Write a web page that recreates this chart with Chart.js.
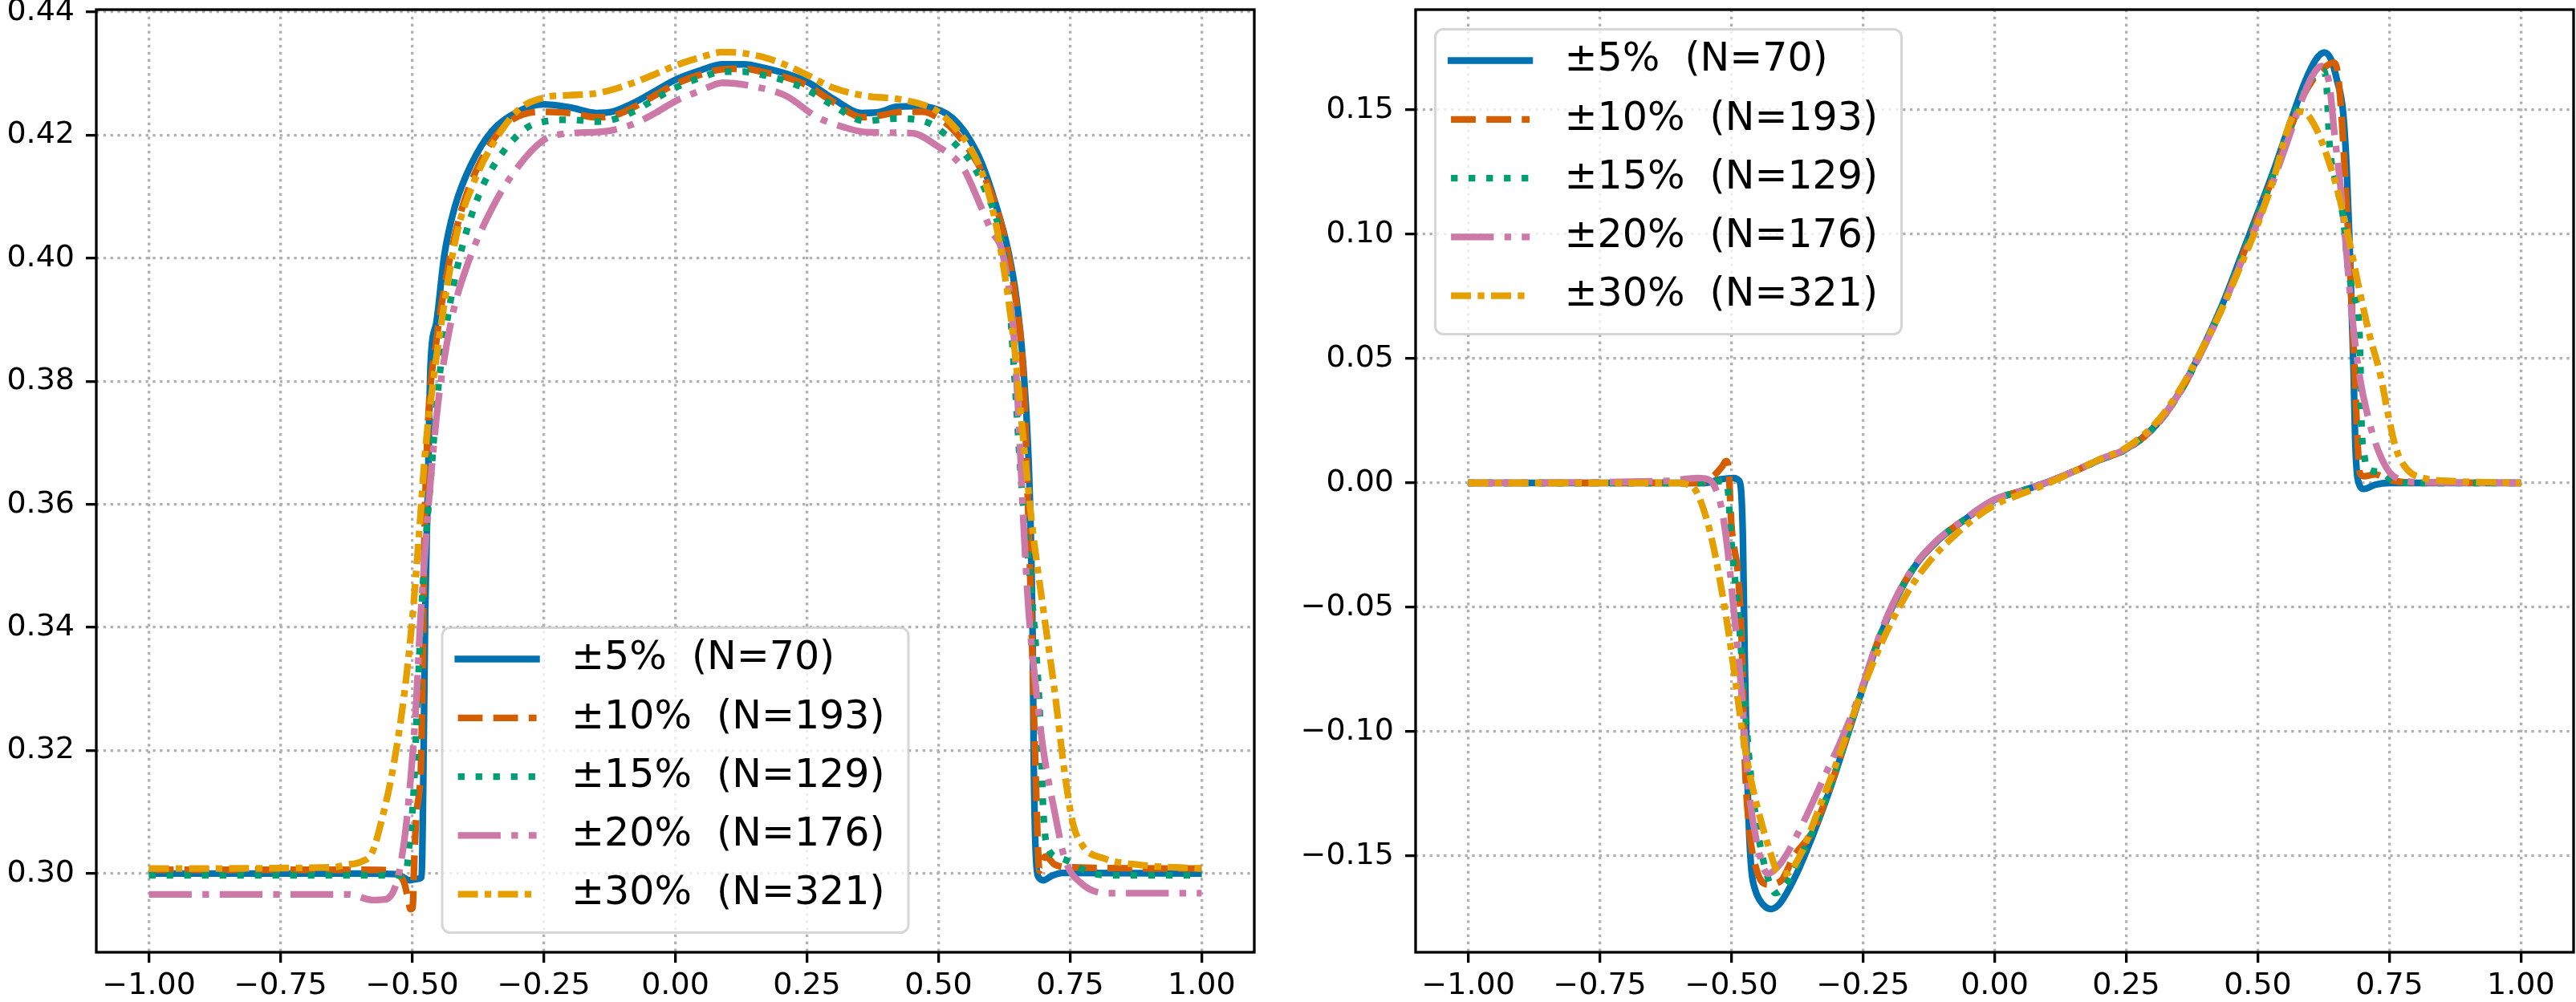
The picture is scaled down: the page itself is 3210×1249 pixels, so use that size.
<!DOCTYPE html>
<html>
<head>
<meta charset="utf-8">
<script src="https://cdn.jsdelivr.net/npm/chart.js@4.4.1/dist/chart.umd.min.js"></script>
<style>
  html, body { margin: 0; padding: 0; background: #fff; overflow: hidden; }
  #wrap { position: relative; width: 3210px; height: 1249px; }
  canvas { position: absolute; top: 0; }
</style>
</head>
<body>
<div id="wrap">
  <canvas id="leftChart" width="1600" height="1249" style="left:0"></canvas>
  <canvas id="rightChart" width="1605" height="1249" style="left:1605px"></canvas>
</div>
<script>
// series labels, same for both panels
const seriesLabels = ['±5%  (N=70)', '±10%  (N=193)', '±15%  (N=129)', '±20%  (N=176)', '±30%  (N=321)'];

// tick labels
const xTicks = [-1.0, -0.75, -0.5, -0.25, 0.0, 0.25, 0.5, 0.75, 1.0];
const leftYTicks = [0.30, 0.32, 0.34, 0.36, 0.38, 0.40, 0.42, 0.44];
const rightYTicks = [-0.15, -0.10, -0.05, 0.00, 0.05, 0.10, 0.15];

// left panel, [x, y]
const left5 = [[-1.0, 0.3], [-0.6, 0.3], [-0.53, 0.2999], [-0.515, 0.2993], [-0.505, 0.2989], [-0.492, 0.2991], [-0.482, 0.2994], [-0.479, 0.3133], [-0.475, 0.343], [-0.47, 0.3628], [-0.465, 0.3826], [-0.454, 0.3895], [-0.439, 0.4004], [-0.419, 0.4083], [-0.388, 0.4152], [-0.348, 0.4207], [-0.302, 0.4237], [-0.25, 0.425], [-0.2, 0.4245], [-0.15, 0.4236], [-0.12, 0.4238], [-0.08, 0.4252], [-0.04, 0.4271], [0.0, 0.429], [0.05, 0.4306], [0.09, 0.4315], [0.13, 0.4315], [0.17, 0.4309], [0.21, 0.43], [0.25, 0.4287], [0.3, 0.4259], [0.355, 0.4236], [0.39, 0.4238], [0.42, 0.4246], [0.46, 0.4247], [0.49, 0.4244], [0.515, 0.4235], [0.536, 0.422], [0.56, 0.4192], [0.582, 0.4155], [0.608, 0.409], [0.633, 0.401], [0.648, 0.3935], [0.661, 0.3826], [0.671, 0.3677], [0.676, 0.3529], [0.679, 0.338], [0.681, 0.3182], [0.686, 0.3014], [0.692, 0.2992], [0.699, 0.2989], [0.715, 0.2996], [0.735, 0.3001], [1.0, 0.3]];
const left10 = [[-1.0, 0.3006], [-0.6, 0.3006], [-0.54, 0.3005], [-0.525, 0.2998], [-0.515, 0.2985], [-0.508, 0.296], [-0.503, 0.2942], [-0.499, 0.2945], [-0.496, 0.302], [-0.492, 0.3095], [-0.487, 0.3128], [-0.483, 0.318], [-0.48, 0.333], [-0.477, 0.3529], [-0.47, 0.3727], [-0.454, 0.3865], [-0.434, 0.3974], [-0.408, 0.4073], [-0.373, 0.4152], [-0.322, 0.4217], [-0.25, 0.4238], [-0.2, 0.4236], [-0.15, 0.4229], [-0.12, 0.4231], [-0.08, 0.4245], [-0.04, 0.4264], [0.0, 0.4283], [0.05, 0.4299], [0.09, 0.4307], [0.13, 0.4308], [0.17, 0.4302], [0.21, 0.4294], [0.25, 0.4281], [0.3, 0.4254], [0.355, 0.4229], [0.39, 0.4232], [0.43, 0.4238], [0.47, 0.4238], [0.5, 0.4228], [0.53, 0.4207], [0.555, 0.418], [0.58, 0.4145], [0.605, 0.4095], [0.625, 0.4035], [0.648, 0.3925], [0.661, 0.3814], [0.669, 0.3628], [0.676, 0.343], [0.684, 0.318], [0.692, 0.3004], [0.698, 0.3022], [0.704, 0.3028], [0.72, 0.3015], [0.75, 0.301], [1.0, 0.3008]];
const left15 = [[-1.0, 0.2997], [-0.6, 0.2997], [-0.525, 0.2997], [-0.512, 0.3], [-0.505, 0.305], [-0.497, 0.3133], [-0.49, 0.3281], [-0.482, 0.343], [-0.475, 0.3529], [-0.464, 0.3648], [-0.452, 0.3776], [-0.434, 0.3895], [-0.409, 0.4004], [-0.373, 0.4103], [-0.332, 0.4167], [-0.282, 0.4212], [-0.25, 0.4222], [-0.2, 0.4225], [-0.15, 0.4222], [-0.12, 0.4225], [-0.08, 0.4238], [-0.04, 0.4258], [0.0, 0.4277], [0.05, 0.4294], [0.09, 0.4303], [0.13, 0.4303], [0.17, 0.4297], [0.21, 0.4288], [0.25, 0.4274], [0.3, 0.4248], [0.36, 0.4223], [0.42, 0.4227], [0.46, 0.4225], [0.49, 0.4216], [0.53, 0.4187], [0.566, 0.4151], [0.59, 0.4108], [0.614, 0.4051], [0.633, 0.395], [0.643, 0.3826], [0.658, 0.3628], [0.674, 0.3479], [0.684, 0.338], [0.694, 0.3232], [0.699, 0.3103], [0.709, 0.3039], [0.735, 0.3024], [0.786, 0.3002], [0.83, 0.2997], [1.0, 0.2997]];
const left20 = [[-1.0, 0.2966], [-0.62, 0.2966], [-0.576, 0.2957], [-0.551, 0.2958], [-0.53, 0.2984], [-0.515, 0.3053], [-0.503, 0.3152], [-0.492, 0.3281], [-0.485, 0.34], [-0.475, 0.3529], [-0.464, 0.3648], [-0.449, 0.3776], [-0.424, 0.3905], [-0.393, 0.3994], [-0.353, 0.4073], [-0.312, 0.4133], [-0.25, 0.4192], [-0.2, 0.4203], [-0.15, 0.4205], [-0.12, 0.4208], [-0.08, 0.4218], [-0.04, 0.4235], [0.0, 0.4255], [0.05, 0.4273], [0.09, 0.4285], [0.15, 0.4279], [0.21, 0.4264], [0.27, 0.4229], [0.32, 0.4213], [0.36, 0.4205], [0.42, 0.4204], [0.452, 0.4203], [0.5, 0.4181], [0.53, 0.4163], [0.55, 0.4142], [0.575, 0.4095], [0.6, 0.4045], [0.623, 0.4004], [0.643, 0.3875], [0.653, 0.3727], [0.661, 0.3578], [0.671, 0.343], [0.684, 0.3311], [0.699, 0.3202], [0.72, 0.3103], [0.74, 0.3024], [0.77, 0.2985], [0.82, 0.2968], [1.0, 0.2968]];
const left30 = [[-1.0, 0.3008], [-0.65, 0.301], [-0.627, 0.3014], [-0.597, 0.3019], [-0.576, 0.3034], [-0.556, 0.3093], [-0.536, 0.3172], [-0.515, 0.3291], [-0.5, 0.341], [-0.487, 0.3549], [-0.475, 0.3687], [-0.459, 0.3806], [-0.439, 0.3925], [-0.414, 0.4044], [-0.383, 0.4123], [-0.342, 0.4192], [-0.297, 0.4242], [-0.25, 0.4261], [-0.2, 0.4265], [-0.15, 0.4268], [-0.1, 0.4279], [-0.05, 0.4295], [0.0, 0.4313], [0.05, 0.4327], [0.09, 0.4335], [0.13, 0.4333], [0.17, 0.4326], [0.21, 0.4314], [0.25, 0.4298], [0.3, 0.4277], [0.36, 0.4264], [0.42, 0.4259], [0.46, 0.4252], [0.488, 0.4244], [0.512, 0.4229], [0.5315, 0.4212], [0.56, 0.418], [0.58, 0.4145], [0.6, 0.409], [0.618, 0.4015], [0.643, 0.3865], [0.661, 0.3707], [0.679, 0.3558], [0.699, 0.343], [0.72, 0.3301], [0.74, 0.3162], [0.755, 0.3083], [0.775, 0.3044], [0.816, 0.3024], [0.882, 0.3014], [1.0, 0.3008]];

// right panel
const right5 = [[-1.0, 0], [-0.55, 0], [-0.52, 0.0015], [-0.495, 0.002], [-0.486, 0.001], [-0.482, -0.002], [-0.478, -0.0238], [-0.475, -0.0664], [-0.471, -0.1089], [-0.467, -0.1372], [-0.462, -0.1557], [-0.455, -0.1635], [-0.447, -0.1675], [-0.435, -0.1705], [-0.424, -0.1713], [-0.412, -0.17], [-0.401, -0.167], [-0.376, -0.1571], [-0.345, -0.1415], [-0.315, -0.1245], [-0.284, -0.1046], [-0.254, -0.0848], [-0.223, -0.0649], [-0.193, -0.0493], [-0.152, -0.0337], [-0.111, -0.0238], [-0.06, -0.0153], [0.0, -0.0068], [0.05, -0.0033], [0.1, 0.0003], [0.15, 0.0046], [0.2, 0.0093], [0.25, 0.0136], [0.306, 0.0231], [0.352, 0.0367], [0.392, 0.0529], [0.433, 0.0719], [0.468, 0.091], [0.5, 0.1086], [0.529, 0.1249], [0.56, 0.1439], [0.59, 0.1615], [0.611, 0.1704], [0.626, 0.1731], [0.639, 0.1704], [0.651, 0.1615], [0.662, 0.1493], [0.669, 0.1262], [0.674, 0.0991], [0.678, 0.0719], [0.682, 0.0448], [0.685, 0.0176], [0.69, 0.0014], [0.702, -0.0024], [0.723, -0.0007], [0.75, 0.0], [1.0, 0.0]];
const right10 = [[-1.0, 0], [-0.56, 0], [-0.533, 0.003], [-0.518, 0.0065], [-0.51, 0.0088], [-0.505, 0.0045], [-0.5, -0.0167], [-0.487, -0.038], [-0.48, -0.0664], [-0.475, -0.1089], [-0.467, -0.1372], [-0.452, -0.1557], [-0.431, -0.1614], [-0.406, -0.16], [-0.381, -0.15], [-0.345, -0.1398], [-0.315, -0.1238], [-0.284, -0.104], [-0.254, -0.0842], [-0.223, -0.0643], [-0.193, -0.0488], [-0.152, -0.0334], [-0.111, -0.0236], [-0.06, -0.0151], [0.0, -0.0067], [0.05, -0.0033], [0.1, 0.0003], [0.15, 0.0046], [0.2, 0.0093], [0.25, 0.0135], [0.306, 0.0229], [0.352, 0.0363], [0.392, 0.0523], [0.433, 0.0708], [0.468, 0.0895], [0.5, 0.107], [0.529, 0.123], [0.56, 0.1412], [0.585, 0.155], [0.606, 0.1625], [0.625, 0.1668], [0.644, 0.169], [0.652, 0.1645], [0.66, 0.145], [0.668, 0.115], [0.676, 0.083], [0.684, 0.045], [0.69, 0.015], [0.694, 0.004], [0.702, 0.0027], [0.723, 0.0034], [0.748, 0.0014], [0.78, 0.0003], [1.0, 0]];
const right15 = [[-1.0, 0], [-0.54, 0], [-0.52, 0.0008], [-0.508, -0.001], [-0.5, -0.0238], [-0.487, -0.0522], [-0.477, -0.0805], [-0.467, -0.1089], [-0.452, -0.1372], [-0.431, -0.1585], [-0.416, -0.1649], [-0.396, -0.1614], [-0.37, -0.1514], [-0.345, -0.1398], [-0.315, -0.124], [-0.284, -0.1042], [-0.254, -0.0845], [-0.223, -0.0646], [-0.193, -0.049], [-0.152, -0.0335], [-0.111, -0.0236], [-0.06, -0.0152], [0.0, -0.0067], [0.05, -0.0033], [0.1, 0.0003], [0.15, 0.0046], [0.2, 0.0093], [0.25, 0.0135], [0.306, 0.023], [0.352, 0.0364], [0.392, 0.0525], [0.433, 0.0712], [0.468, 0.09], [0.5, 0.1075], [0.529, 0.1238], [0.56, 0.1422], [0.595, 0.1605], [0.615, 0.1648], [0.626, 0.1656], [0.631, 0.1588], [0.636, 0.1371], [0.648, 0.121], [0.662, 0.107], [0.672, 0.0855], [0.683, 0.075], [0.692, 0.065], [0.695, 0.0475], [0.697, 0.0244], [0.702, 0.012], [0.707, 0.006], [0.733, 0.0044], [0.758, 0.0007], [0.8, 0], [1.0, 0]];
const right20 = [[-1.0, 0], [-0.62, 0.0008], [-0.564, 0.002], [-0.545, 0.0015], [-0.533, -0.001], [-0.518, -0.011], [-0.505, -0.0309], [-0.495, -0.0522], [-0.485, -0.0734], [-0.477, -0.0947], [-0.467, -0.1231], [-0.452, -0.1443], [-0.431, -0.1571], [-0.406, -0.1528], [-0.365, -0.1372], [-0.325, -0.1188], [-0.294, -0.1046], [-0.254, -0.0835], [-0.223, -0.0638], [-0.193, -0.0485], [-0.152, -0.0332], [-0.111, -0.0234], [-0.06, -0.015], [0.0, -0.0066], [0.05, -0.0033], [0.1, 0.0003], [0.15, 0.0046], [0.2, 0.0095], [0.25, 0.0138], [0.306, 0.0232], [0.352, 0.0365], [0.392, 0.0522], [0.433, 0.0705], [0.468, 0.0885], [0.5, 0.105], [0.529, 0.121], [0.56, 0.1395], [0.59, 0.1575], [0.606, 0.1645], [0.621, 0.1676], [0.636, 0.1602], [0.646, 0.1398], [0.657, 0.1195], [0.667, 0.0964], [0.677, 0.0719], [0.692, 0.0448], [0.712, 0.0244], [0.733, 0.0109], [0.758, 0.0027], [0.809, 0.0003], [1.0, 0]];
const right30 = [[-1.0, 0], [-0.6, 0], [-0.585, -0.0005], [-0.569, -0.0026], [-0.548, -0.0139], [-0.533, -0.0267], [-0.518, -0.0437], [-0.503, -0.0635], [-0.49, -0.0834], [-0.477, -0.1032], [-0.462, -0.1202], [-0.444, -0.1358], [-0.426, -0.1486], [-0.414, -0.1557], [-0.396, -0.1571], [-0.37, -0.15], [-0.335, -0.1316], [-0.294, -0.1089], [-0.254, -0.0848], [-0.213, -0.0635], [-0.172, -0.0465], [-0.132, -0.0337], [-0.06, -0.0181], [0.0, -0.0089], [0.05, -0.0045], [0.1, -0.0003], [0.15, 0.0045], [0.2, 0.0095], [0.25, 0.0142], [0.306, 0.024], [0.352, 0.0375], [0.392, 0.053], [0.433, 0.0705], [0.468, 0.0875], [0.5, 0.104], [0.529, 0.1215], [0.565, 0.1466], [0.585, 0.1493], [0.611, 0.1425], [0.631, 0.1317], [0.651, 0.1181], [0.672, 0.0991], [0.692, 0.0787], [0.712, 0.0597], [0.733, 0.0434], [0.748, 0.0271], [0.763, 0.0136], [0.784, 0.0054], [0.814, 0.002], [0.875, 0.0007], [1.0, 0]];

// styles
const lineColors = ['#0072B2', '#D55E00', '#009E73', '#CC79A7', '#E69F00'];
const LW = 8.3;
const lineDashes = [[], [30.8, 13.3], [8.3, 13.7], [53.3, 13.3, 8.3, 13.3], [25, 8.3, 8.3, 8.3]];
const FONT = 'DejaVu Sans';

function fmt(v) {
  return Number(v).toFixed(2).replace('-', '\u2212');
}

// frame round the axes + matplotlib style legend inside it
const framePlugin = {
  id: 'frameAndLegend',
  afterDraw(chart, args, opts) {
    const ctx = chart.ctx;
    const a = chart.chartArea;
    ctx.save();
    ctx.strokeStyle = '#000';
    ctx.lineWidth = 3.3;
    ctx.setLineDash([]);
    ctx.strokeRect(a.left, a.top, a.right - a.left, a.bottom - a.top);

    // legend
    const fs = 49, w = 581, h = 380, pad = 24.5, r = 10;
    let bx, by;
    if (opts.loc === 'lower center') {
      bx = a.left + (a.right - a.left - w) / 2;
      by = a.bottom - pad - h;
    } else {
      bx = a.left + pad;
      by = a.top + pad;
    }
    ctx.beginPath();
    ctx.moveTo(bx + r, by);
    ctx.lineTo(bx + w - r, by);
    ctx.arcTo(bx + w, by, bx + w, by + r, r);
    ctx.lineTo(bx + w, by + h - r);
    ctx.arcTo(bx + w, by + h, bx + w - r, by + h, r);
    ctx.lineTo(bx + r, by + h);
    ctx.arcTo(bx, by + h, bx, by + h - r, r);
    ctx.lineTo(bx, by + r);
    ctx.arcTo(bx, by, bx + r, by, r);
    ctx.closePath();
    ctx.fillStyle = 'rgba(255,255,255,0.8)';
    ctx.fill();
    ctx.strokeStyle = 'rgba(204,204,204,0.8)';
    ctx.lineWidth = 3;
    ctx.stroke();

    ctx.font = fs + 'px "' + FONT + '"';
    ctx.textBaseline = 'middle';
    ctx.textAlign = 'left';
    chart.data.datasets.forEach((ds, i) => {
      const cy = by + 39 + i * 73.3;
      const x0 = bx + 19.6;
      ctx.save();
      ctx.strokeStyle = ds.borderColor;
      ctx.lineWidth = ds.borderWidth;
      ctx.setLineDash(ds.borderDash);
      ctx.lineCap = ds.borderDash.length ? 'butt' : 'square';
      ctx.beginPath();
      ctx.moveTo(x0, cy);
      ctx.lineTo(x0 + 98, cy);
      ctx.stroke();
      ctx.restore();
      ctx.fillStyle = '#000';
      ctx.fillText(ds.label, bx + 161, cy);
    });
    ctx.restore();
  }
};

function gridOpts() {
  return {
    color: '#b0b0b0',
    lineWidth: 3.3,
    tickColor: '#000',
    tickWidth: 3.3,
    tickLength: 13,
    tickBorderDash: [],
    drawTicks: true
  };
}

// in Chart.js v4 the grid line dash lives under border.dash
function borderOpts() {
  return { display: false, dash: [3.3, 5.5] };
}

function makeChart(id, series, yMin, yMax, yTicks, yWidth, padRight, loc) {
  const datasets = series.map((pts, i) => ({
    label: seriesLabels[i],
    data: pts.map(p => ({ x: p[0], y: p[1] })),
    borderColor: lineColors[i],
    borderWidth: LW,
    borderDash: lineDashes[i],
    borderCapStyle: 'butt',
    borderJoinStyle: 'round',
    pointRadius: 0,
    fill: false,
    cubicInterpolationMode: 'monotone',
    order: series.length - 1 - i
  }));

  return new Chart(document.getElementById(id), {
    type: 'line',
    data: { datasets: datasets },
    options: {
      responsive: false,
      animation: false,
      devicePixelRatio: 1,
      layout: { padding: { left: 0, top: 12, right: padRight, bottom: 0 } },
      plugins: {
        legend: { display: false },
        tooltip: { enabled: false },
        frameAndLegend: { loc: loc }
      },
      scales: {
        x: {
          type: 'linear',
          min: -1.1,
          max: 1.1,
          bounds: 'data',
          afterBuildTicks: s => { s.ticks = xTicks.map(v => ({ value: v })); },
          afterFit: s => { s.height = 62; s.paddingLeft = 0; s.paddingRight = 0; },
          ticks: {
            autoSkip: false, maxRotation: 0, minRotation: 0, padding: 6,
            color: '#000', font: { family: FONT, size: 38 },
            callback: v => fmt(v)
          },
          grid: gridOpts(),
          border: borderOpts()
        },
        y: {
          type: 'linear',
          min: yMin,
          max: yMax,
          bounds: 'data',
          afterBuildTicks: s => { s.ticks = yTicks.map(v => ({ value: v })); },
          afterFit: s => { s.width = yWidth; s.paddingTop = 0; s.paddingBottom = 0; },
          ticks: {
            autoSkip: false, padding: 14,
            color: '#000', font: { family: FONT, size: 38 },
            callback: v => fmt(v)
          },
          grid: gridOpts(),
          border: borderOpts()
        }
      }
    },
    plugins: [framePlugin]
  });
}

makeChart('leftChart', [left5, left10, left15, left20, left30], 0.2872, 0.4404, leftYTicks, 120, 37, 'lower center');
makeChart('rightChart', [right5, right10, right15, right20, right30], -0.1887, 0.1903, rightYTicks, 159, 3, 'upper left');
</script>
</body>
</html>
